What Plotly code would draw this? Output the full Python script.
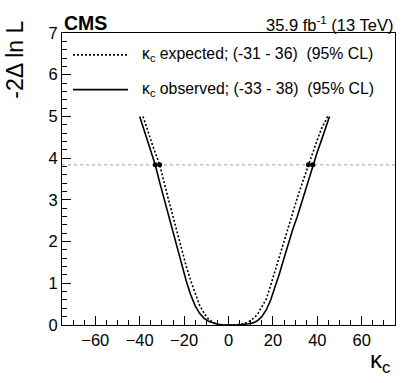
import plotly.graph_objects as go

# -2 Delta ln L scans vs kappa_c
kc_obs = [-40, -38, -36, -34, -33, -31, -29, -27, -25, -23, -21, -19, -17, -15, -13, -11, -9, -7, -5, -3, -1,
          1, 3, 5, 7, 9, 11, 13, 15, 17, 19, 21, 23, 25, 27, 29, 31, 33, 35, 37, 38, 40, 42, 44, 45.5]
nll_obs = [5.0, 4.68, 4.33, 4.0, 3.84, 3.42, 3.03, 2.65, 2.25, 1.83, 1.42, 1.05, 0.72, 0.46, 0.28, 0.16, 0.09,
           0.045, 0.018, 0.005, 0.0, 0.0, 0.0, 0.004, 0.012, 0.03, 0.05, 0.1, 0.2, 0.36, 0.6, 0.9, 1.24, 1.6,
           1.96, 2.3, 2.6, 2.95, 3.32, 3.66, 3.84, 4.15, 4.45, 4.76, 5.0]

kc_exp = [-38.5, -36, -34, -31, -29, -27, -25, -23, -21, -19, -17, -15, -13, -11, -9, -7, -5, -3, -1,
          1, 3, 5, 7, 9, 11, 13, 15, 17, 19, 21, 23, 25, 27, 29, 31, 33, 36, 38, 40, 42, 44.7]
nll_exp = [5.0, 4.58, 4.28, 3.84, 3.45, 3.0, 2.6, 2.18, 1.78, 1.4, 1.06, 0.76, 0.47, 0.28, 0.14, 0.06, 0.02,
           0.005, 0.0, 0.0, 0.002, 0.01, 0.03, 0.075, 0.15, 0.25, 0.42, 0.62, 0.95, 1.3, 1.68, 2.05, 2.4,
           2.76, 3.05, 3.37, 3.84, 4.15, 4.44, 4.72, 5.0]

cl95 = 3.84
cross_obs = [-33, 38]
cross_exp = [-31, 36]

FONT = "Liberation Sans, Arial, Helvetica, sans-serif"

fig = go.Figure()

fig.add_trace(go.Scatter(
    x=[-75, 75], y=[cl95, cl95], mode='lines',
    line=dict(color='#b4b4b4', width=1.2, dash='3px,3px'),
    showlegend=False, hoverinfo='skip'
))
fig.add_trace(go.Scatter(
    x=kc_exp, y=nll_exp, mode='lines',
    line=dict(color='black', width=1.6, dash='2px,2px'),
    showlegend=False
))
fig.add_trace(go.Scatter(
    x=kc_obs, y=nll_obs, mode='lines',
    line=dict(color='black', width=1.6),
    showlegend=False
))
fig.add_trace(go.Scatter(
    x=cross_obs + cross_exp, y=[cl95] * 4, mode='markers',
    marker=dict(color='black', size=5),
    showlegend=False
))

# legend drawn by hand, ROOT style
legend = [("κ<sub>c</sub> expected; (-31 - 36)  (95% CL)", '2px,2px', 0.925),
          ("κ<sub>c</sub> observed; (-33 - 38)  (95% CL)", 'solid', 0.806)]
shapes = []
annotations = []
for text, dash, ypos in legend:
    shapes.append(dict(type='line', xref='paper', yref='paper', x0=0.033, x1=0.198, y0=ypos, y1=ypos,
                       line=dict(color='black', width=1.6, dash=dash)))
    annotations.append(dict(text=text, xref='paper', yref='paper', x=0.234, y=ypos, xanchor='left',
                            yanchor='middle', showarrow=False, font=dict(size=15.8, color='black', family=FONT)))

annotations += [
    dict(text="<b>CMS</b>", xref='paper', yref='paper', x=0.0, y=1.0, xanchor='left', yanchor='bottom',
         showarrow=False, font=dict(size=19.5, color='black', family=FONT), yshift=-3),
    dict(text="35.9 fb<sup>-1</sup> (13 TeV)", xref='paper', yref='paper', x=1.0, y=1.0, xanchor='right',
         yanchor='bottom', showarrow=False, font=dict(size=16.5, color='black', family=FONT), yshift=-3),
    dict(text="-2Δ ln L", xref='paper', yref='paper', x=-0.14, y=1.05, xanchor='center', yanchor='top',
         textangle=-90, showarrow=False, font=dict(size=23, color='black', family=FONT)),
    dict(text="κ<sub>c</sub>", xref='paper', yref='paper', x=0.99, y=-0.065, xanchor='right', yanchor='top',
         showarrow=False, font=dict(size=24, color='black', family=FONT)),
]

fig.update_layout(
    width=407, height=383,
    margin=dict(l=62, r=12, t=33, b=58),
    paper_bgcolor='white', plot_bgcolor='white',
    font=dict(family=FONT, color='black', size=16),
    shapes=shapes,
    annotations=annotations,
    xaxis=dict(range=[-75, 75], tickmode='array', tickvals=[-60, -40, -20, 0, 20, 40, 60],
               ticktext=['−60', '−40', '−20', '0', '20', '40', '60'],
               ticks='inside', ticklen=9, tickwidth=1, tickcolor='black',
               minor=dict(dtick=5, tick0=0, ticks='inside', ticklen=5, tickcolor='black', showgrid=False),
               showline=True, linecolor='black', linewidth=1, mirror=True,
               showgrid=False, zeroline=False, tickfont=dict(size=16.5)),
    yaxis=dict(range=[0, 7], dtick=1, ticks='inside', ticklen=9, tickwidth=1, tickcolor='black',
               minor=dict(dtick=0.2, ticks='inside', ticklen=5, tickcolor='black', showgrid=False),
               showline=True, linecolor='black', linewidth=1, mirror=True,
               showgrid=False, zeroline=False, tickfont=dict(size=16.5)),
)

fig.write_html("out.html", config={'displayModeBar': False},
               post_script="document.body.style.margin='0';document.body.style.padding='0';")
